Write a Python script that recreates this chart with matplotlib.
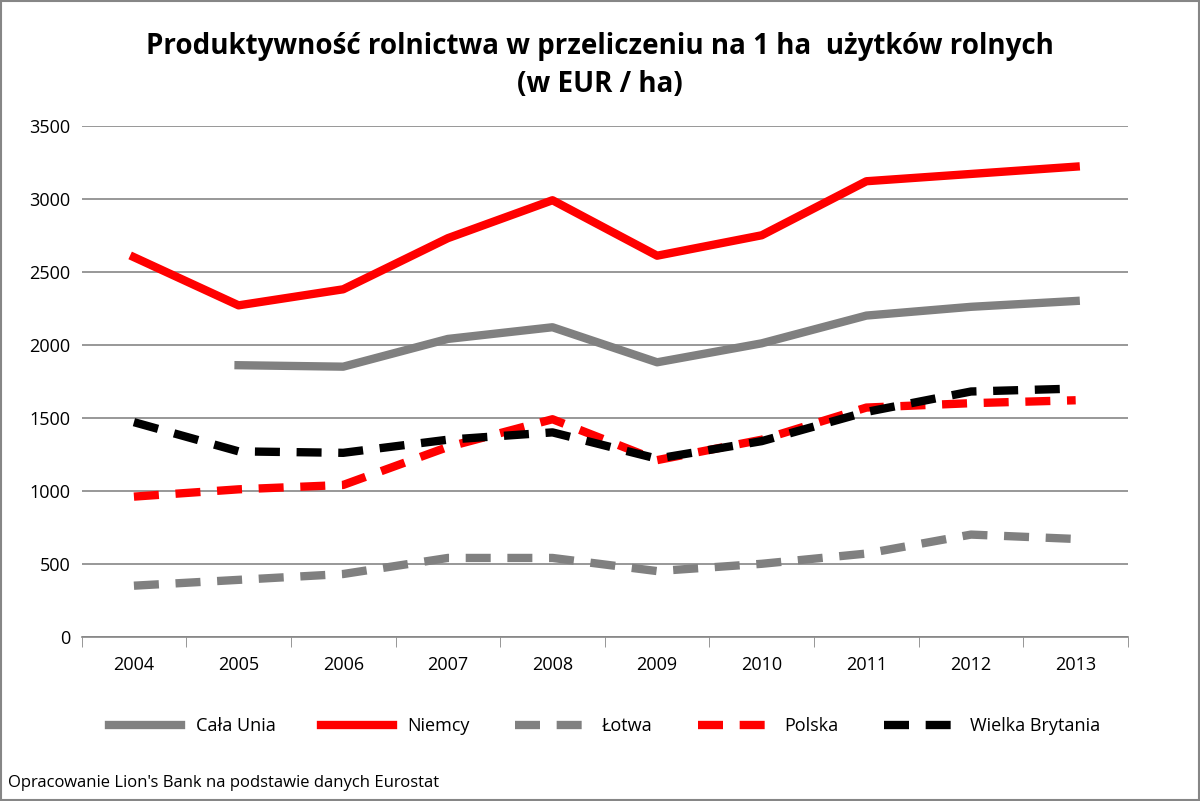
import numpy as np
import matplotlib
matplotlib.use('Agg')
import matplotlib.pyplot as plt
from matplotlib.patches import Rectangle

plt.rcParams['font.family'] = 'Open Sans'

years = ['2004', '2005', '2006', '2007', '2008', '2009', '2010', '2011', '2012', '2013']
cala_unia = [np.nan, 1860, 1850, 2040, 2120, 1880, 2010, 2200, 2260, 2300]
niemcy = [2600, 2270, 2380, 2730, 2990, 2610, 2750, 3120, 3170, 3220]
lotwa = [350, 390, 430, 540, 540, 450, 500, 570, 700, 670]
polska = [960, 1010, 1040, 1300, 1490, 1210, 1350, 1570, 1600, 1620]
wielka_brytania = [1470, 1270, 1260, 1350, 1400, 1220, 1340, 1540, 1680, 1700]

fig = plt.figure(figsize=(12, 8.01), dpi=100)
ax = fig.add_axes([0.068, 0.205, 0.872, 0.638])
x = np.arange(len(years))

# series in legend order
ax.plot(x, cala_unia, color='#808080', lw=6, label='Cała Unia')
ax.plot(x, niemcy, color='#ff0000', lw=6, label='Niemcy')
ax.plot(x, lotwa, color='#808080', lw=6, ls=(0, (3, 2)), label='Łotwa')
ax.plot(x, polska, color='#ff0000', lw=6, ls=(0, (3, 2)), label='Polska')
ax.plot(x, wielka_brytania, color='#000000', lw=6, ls=(0, (3, 2)), label='Wielka Brytania')

ax.set_xlim(-0.5, len(years) - 0.5)
ax.set_ylim(0, 3500)
ax.set_yticks(range(0, 3501, 500))
ax.grid(axis='y', color='#868686', lw=1.2)
ax.set_axisbelow(True)
ax.set_xticks(x)
ax.set_xticklabels(years)
ax.set_xticks(np.arange(-0.5, len(years)), minor=True)
ax.tick_params(axis='x', which='major', length=0, pad=14, labelsize=13)
ax.tick_params(axis='x', which='minor', length=7, color='#868686')
ax.tick_params(axis='y', length=0, pad=8, labelsize=13)
for s in ['top', 'right', 'left']:
    ax.spines[s].set_visible(False)
ax.spines['bottom'].set_color('#868686')
ax.spines['bottom'].set_linewidth(1.2)

fig.text(0.5, 0.96, 'Produktywność rolnictwa w przeliczeniu na 1 ha  użytków rolnych\n(w EUR / ha)',
         ha='center', va='top', fontsize=20, fontweight='bold', linespacing=1.4)

ax.legend(loc='upper center', bbox_to_anchor=(0.5, -0.125), ncol=5, frameon=False,
          fontsize=13, handlelength=4, columnspacing=2.5)

fig.text(0.007, 0.018, "Opracowanie Lion's Bank na podstawie danych Eurostat", fontsize=12)
fig.patches.append(Rectangle((0.001, 0.001), 0.998, 0.998, transform=fig.transFigure,
                             fill=False, edgecolor='#868686', lw=1.5))

fig.savefig('out.png')
